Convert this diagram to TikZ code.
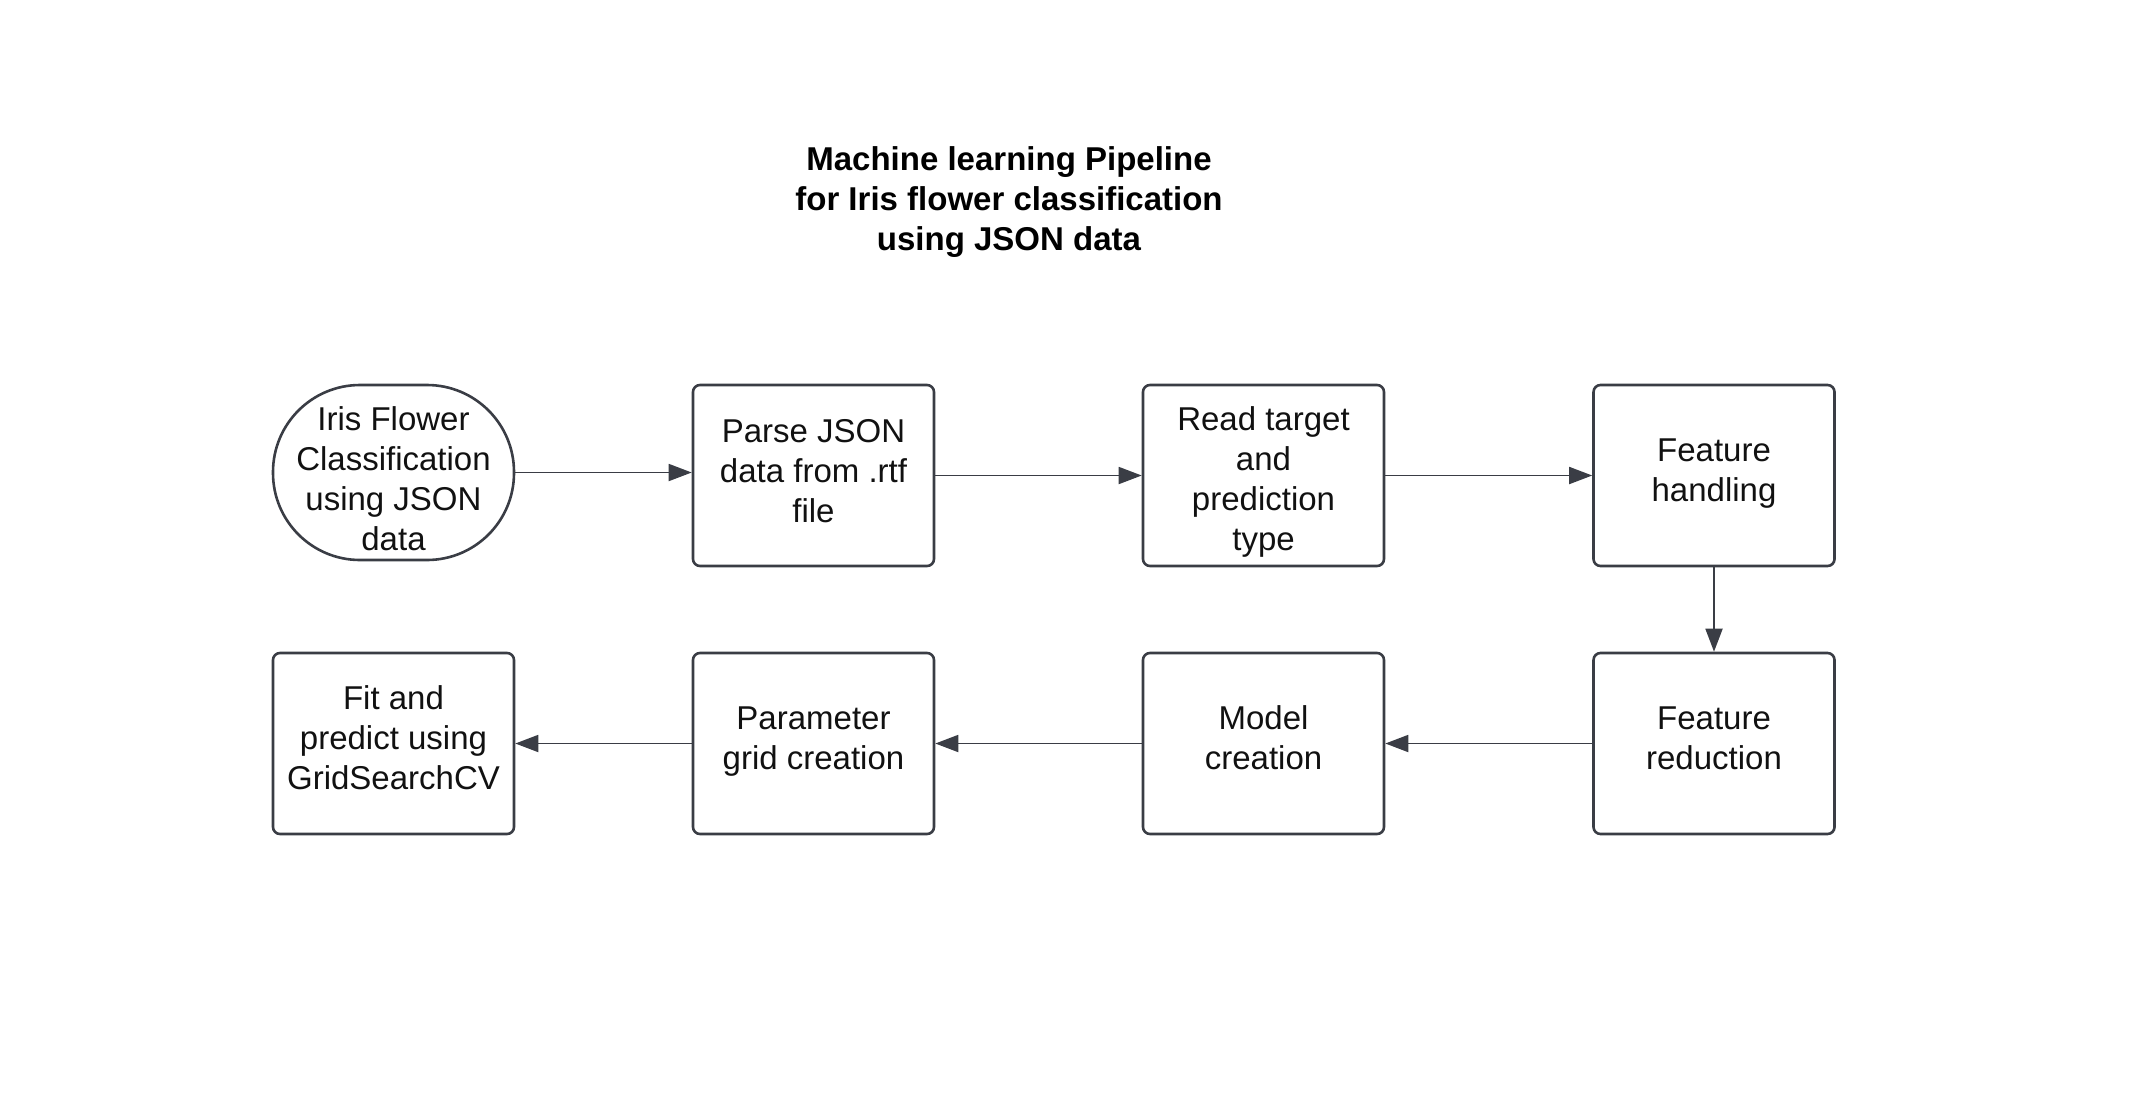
\documentclass[tikz,border=0pt]{standalone}
\usepackage{fontspec}
\setmainfont{Liberation Sans}
\usetikzlibrary{arrows.meta}
\definecolor{linec}{HTML}{3A3D45}
\definecolor{txtc}{HTML}{111111}
\newcommand\mlines[1]{\begin{tabular}[t]{@{}c@{}}#1\end{tabular}}
\begin{document}
\begin{tikzpicture}[x=1pt,y=-1pt,
  box/.style={draw=linec, line width=2.6pt, rounded corners=7pt, minimum width=241pt, minimum height=181pt, inner sep=0pt},
  stad/.style={box, rounded corners=87pt, minimum height=175pt},
  txt/.style={anchor=base, inner sep=0pt, text=txtc, font=\fontsize{33}{40}\selectfont},
  arr/.style={draw=linec, line width=1.8pt, -{Triangle[length=23pt,width=17pt]}},
  ttl/.style={anchor=base, inner sep=0pt, text=black, font=\bfseries\fontsize{33}{40}\selectfont}]
\useasboundingbox (0,0) rectangle (2132,1098);
\node[ttl] (title) at (1009,170) {\mlines{Machine learning Pipeline\\for Iris flower classification\\using JSON data}};
\node[stad] (s) at (393.5,472.5) {};
\node[box] (b2) at (813.5,475.5) {};
\node[box] (b3) at (1263.5,475.5) {};
\node[box] (b4) at (1714,475.5) {};
\node[box] (b5) at (1714,743.5) {};
\node[box] (b6) at (1263.5,743.5) {};
\node[box] (b7) at (813.5,743.5) {};
\node[box] (b8) at (393.5,743.5) {};
\node[txt] (st) at (393.5,430) {\mlines{Iris Flower\\Classification\\using JSON\\data}};
\node[txt] (b2t) at (813.5,442) {\mlines{Parse JSON\\data from .rtf\\file}};
\node[txt] (b3t) at (1263.5,430) {\mlines{Read target\\and\\prediction\\type}};
\node[txt] (b4t) at (1714,461) {\mlines{Feature\\handling}};
\node[txt] (b5t) at (1714,729) {\mlines{Feature\\reduction}};
\node[txt] (b6t) at (1263.5,729) {\mlines{Model\\creation}};
\node[txt] (b7t) at (813.5,729) {\mlines{Parameter\\grid creation}};
\node[txt] (b8t) at (393.5,709) {\mlines{Fit and\\predict using\\GridSearchCV}};
\draw[arr] (s.east) -- (s.east -| b2.west);
\draw[arr] (b2.east) -- (b3.west);
\draw[arr] (b3.east) -- (b4.west);
\draw[arr] (b4.south) -- (b5.north);
\draw[arr] (b5.west) -- (b6.east);
\draw[arr] (b6.west) -- (b7.east);
\draw[arr] (b7.west) -- (b8.east);
\end{tikzpicture}
\end{document}
